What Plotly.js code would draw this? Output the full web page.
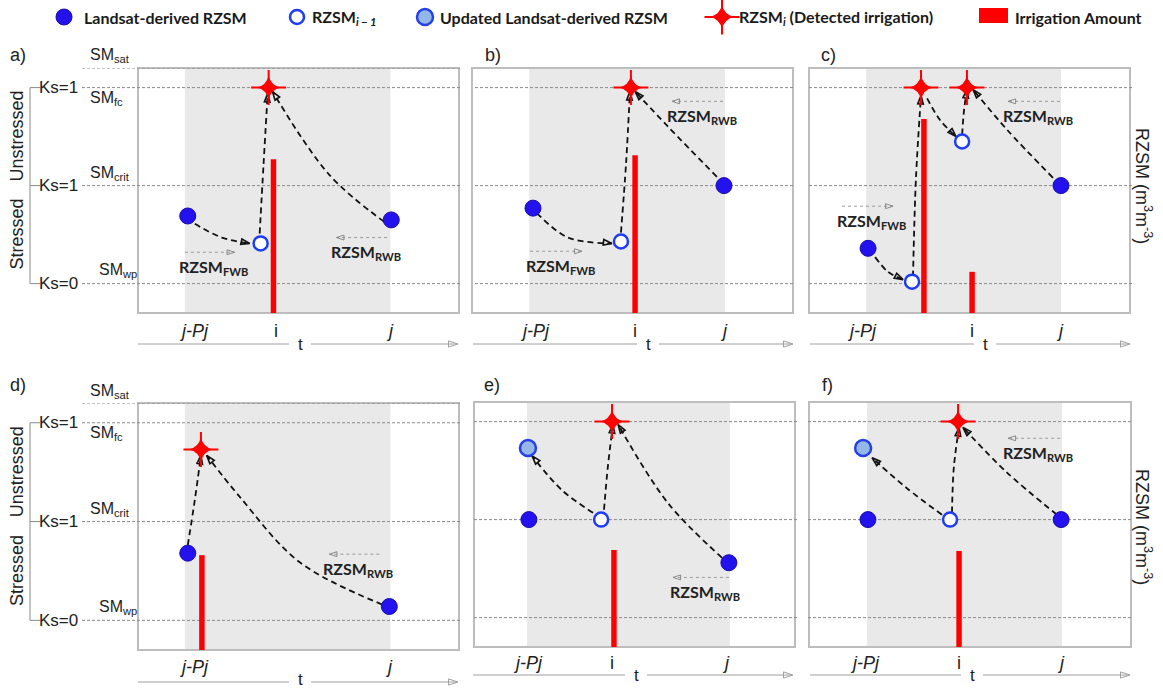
<!DOCTYPE html>
<html>
<head>
<meta charset="utf-8">
<script src="https://cdn.plot.ly/plotly-3.0.1.min.js"></script>
<style>html,body{margin:0;padding:0;background:#fff;}#chart{width:1163px;height:690px;}</style>
</head>
<body>
<div id="chart"></div>
<script>
// ---------------- data (schematic units: SMwp = 0, SMcrit = 1, SMfc = 2, SMsat = 2.2; time 0..10) ----------------
const thresholdLabels = ['SM<sub>wp</sub>', 'SM<sub>crit</sub>', 'SM<sub>fc</sub>', 'SM<sub>sat</sub>'];
const thresholdValues = [0, 1, 2, 2.2];
const ksLabels = ['Ks=0', 'Ks=1', 'Ks=1'];
const stressLabels = ['Stressed', 'Unstressed'];
const panelLabels = ['a)', 'b)', 'c)', 'd)', 'e)', 'f)'];
const tickText = ['<i>j-Pj</i>', 'i', '<i>j</i>'];
const tickX = [[1.74, 4.29, 7.86], [1.96, 5.08, 7.85], [1.65, 5.08, 7.82], [1.74, null, 7.83], [1.68, 4.30, 7.85], [1.74, 4.66, 7.83]];
const windowStart = [1.46, 1.78, 1.78, 1.46, 1.65, 1.80];
const windowEnd = [7.86, 7.88, 7.85, 7.86, 7.97, 7.86];

const landsatX = [[1.55, 7.89], [1.90, 7.85], [1.84, 7.85], [1.55, 7.83], [1.71, 7.94], [1.83, 7.83]];
const landsatY = [[0.69, 0.65], [0.77, 1.0], [0.36, 1.0], [0.68, 0.14], [1.0, 0.56], [1.0, 1.0]];
const priorX = [[3.82], [4.64], [3.21, 4.77], [], [3.96], [4.38]];
const priorY = [[0.41], [0.43], [0.02, 1.45], [], [1.0], [1.0]];
const updatedX = [[], [], [], [], [1.68], [1.68]];
const updatedY = [[], [], [], [], [1.73], [1.73]];
const detectedX = [[4.07], [4.95], [3.49, 4.92], [1.96], [4.30], [4.63]];
const detectedY = [[2.0], [2.0], [2.0, 2.0], [1.73], [2.0], [2.0]];
const irrigationX = [[4.22], [5.08], [3.58, 5.08], [1.99], [4.36], [4.66]];
const irrigationAmount = [[1.57], [1.61], [1.98, 0.42], [0.96], [0.99], [0.98]];

// dashed water-balance paths (start, middle, end)
const pathX = [
  [[1.77, 2.61, 3.48], [3.79, 3.91, 4.04], [7.67, 5.96, 4.19]],
  [[2.02, 2.99, 4.36], [4.64, 4.80, 4.92], [7.63, 6.11, 5.08]],
  [[2.06, 2.46, 2.93], [3.24, 3.33, 3.49], [3.68, 4.08, 4.58], [4.77, 4.83, 4.92], [7.60, 6.17, 5.11]],
  [[1.55, 1.77, 1.96], [7.61, 5.03, 3.17, 2.14]],
  [[3.71, 2.74, 1.81], [4.05, 4.17, 4.33], [7.73, 6.04, 4.49]],
  [[4.13, 3.04, 1.96], [4.44, 4.50, 4.66], [7.70, 6.15, 4.78]]
];
const pathY = [
  [[0.61, 0.47, 0.41], [0.51, 1.21, 1.94], [0.63, 1.11, 1.96]],
  [[0.72, 0.47, 0.41], [0.52, 1.23, 1.96], [1.09, 1.60, 1.96]],
  [[0.27, 0.12, 0.04], [0.07, 1.06, 1.92], [1.89, 1.67, 1.50], [1.52, 1.77, 1.98], [1.08, 1.57, 1.98]],
  [[0.76, 1.22, 1.67], [0.16, 0.59, 1.25, 1.67]],
  [[1.07, 1.30, 1.65], [1.10, 1.54, 1.97], [0.61, 1.17, 1.97]],
  [[1.05, 1.32, 1.63], [1.07, 1.54, 1.94], [1.05, 1.48, 1.94]]
];
// forward / reverse water balance direction arrows [tail, head]
const fwbX = [[1.46, 3.01], [1.81, 3.43], [1.03, 2.62], null, null, null];
const fwbY = [0.32, 0.33, 0.79, null, null, null];
const rwbX = [[7.76, 6.18], [7.82, 6.23], [7.82, 6.20], [7.52, 5.96], [7.94, 6.20], [7.80, 6.18]];
const rwbY = [0.47, 1.86, 1.86, 0.67, 0.41, 1.83];

const legendNames = ['Landsat-derived RZSM', 'RZSM<sub><i>i − 1</i></sub>', 'Updated Landsat-derived RZSM',
  'RZSM<sub><i>i</i></sub> (Detected irrigation)', 'Irrigation Amount'];
const yTitle = 'RZSM (m<sup>3</sup>m<sup>-3</sup>)';

// ---------------- geometry (pixels) ----------------
const W = 1163, H = 690;
const XR = [0, 10], YR = [-0.3, 2.2];
const boxes = [[138, 459, 68, 313], [472, 793, 68, 313], [809, 1130, 68, 313],
               [138, 459, 403, 650], [474, 795, 402, 647], [809, 1131, 402, 647]];
const lineExt = [[82, 460], [475, 795], [809, 1133], [82, 460], [474, 797], [808, 1131]];
const tickRowY = [331, 331, 331, 667, 663, 663];
const tAxisY = [344, 344, 344, 682, 675, 675];
const tAxisX = [[138, 458], [473, 793], [810, 1130], [138, 458], [473, 793], [810, 1130]];
const tLabelX = [300, 648, 985, 300, 636, 972];
const letterPos = [[18, 55], [493, 55], [828, 55], [18, 385], [492, 385], [827, 385]];
const fx = v => v / W, fy = v => 1 - v / H;
const sfx = k => (k === 0 ? '' : String(k + 1));
const FA = 'Liberation Sans, Arial, sans-serif';
const FB = 'Lato, Calibri, sans-serif';
const BLUE = '#2412ee', BLUE_EDGE = '#160bb0', RING = '#1f3cf5';

const layout = {
  width: W, height: H, margin: {l: 0, r: 0, t: 0, b: 0},
  paper_bgcolor: '#ffffff', plot_bgcolor: 'rgba(0,0,0,0)', showlegend: false,
  shapes: [], annotations: []
};
const traces = [];
const S = layout.shapes, A = layout.annotations;

for (let k = 0; k < 6; k++) {
  const [l, r, t, b] = boxes[k];
  layout['xaxis' + sfx(k)] = {domain: [fx(l), fx(r)], range: XR, visible: false, fixedrange: true, anchor: 'y' + sfx(k)};
  layout['yaxis' + sfx(k)] = {domain: [fy(b), fy(t)], range: YR, visible: false, fixedrange: true, anchor: 'x' + sfx(k)};
}
// full-page overlay axis (pixel units) for legend glyphs and time-axis arrowheads
layout.xaxis7 = {domain: [0, 1], range: [0, W], visible: false, fixedrange: true, anchor: 'y7'};
layout.yaxis7 = {domain: [0, 1], range: [H, 0], visible: false, fixedrange: true, anchor: 'x7'};

// background bands, boxes, threshold lines
for (let k = 0; k < 6; k++) {
  const [l, r, t, b] = boxes[k];
  S.push({type: 'rect', xref: 'x' + sfx(k), yref: 'paper', x0: windowStart[k], x1: windowEnd[k], y0: fy(b), y1: fy(t),
    fillcolor: '#e9e9e9', line: {width: 0}, layer: 'below'});
}
for (let k = 0; k < 6; k++) {
  const [l, r, t, b] = boxes[k];
  S.push({type: 'rect', xref: 'paper', yref: 'paper', x0: fx(l), x1: fx(r), y0: fy(b), y1: fy(t),
    fillcolor: 'rgba(0,0,0,0)', line: {color: '#bdbdbd', width: 2}, layer: 'below'});
}
for (let k = 0; k < 6; k++) {
  const n = (k === 0 || k === 3) ? 4 : 3;
  for (let i = 0; i < n; i++) {
    S.push({type: 'line', xref: 'paper', yref: 'y' + sfx(k), x0: fx(lineExt[k][0]), x1: fx(lineExt[k][1]),
      y0: thresholdValues[i], y1: thresholdValues[i], line: {color: '#8a8a8a', width: 1, dash: '3px,2px'}, layer: 'below'});
  }
}

// left-side labels for rows (panels a and d)
[0, 3].forEach(k => {
  const yref = 'y' + sfx(k);
  S.push({type: 'line', xref: 'paper', yref, x0: fx(30), x1: fx(30), y0: thresholdValues[0], y1: thresholdValues[2],
    line: {color: '#8a8a8a', width: 1}});
  for (let i = 0; i < 3; i++) {
    S.push({type: 'line', xref: 'paper', yref, x0: fx(30), x1: fx(40), y0: thresholdValues[i], y1: thresholdValues[i],
      line: {color: '#8a8a8a', width: 1}});
    A.push({xref: 'paper', yref, x: fx(58), y: thresholdValues[i], text: ksLabels[i], showarrow: false,
      font: {family: FA, size: 17, color: '#222'}});
  }
  const smX = [97, 88, 88, 88], smShift = [13, 12, -11, 12];
  for (let i = 0; i < 4; i++) {
    A.push({xref: 'paper', yref, x: fx(smX[i]), y: thresholdValues[i], yshift: smShift[i], text: thresholdLabels[i],
      showarrow: false, xanchor: 'left', font: {family: FA, size: 16, color: '#222'}});
  }
  A.push({xref: 'paper', yref, x: fx(17), y: (thresholdValues[0] + thresholdValues[1]) / 2, text: stressLabels[0],
    textangle: -90, showarrow: false, font: {family: FA, size: 18, color: '#222'}});
  A.push({xref: 'paper', yref, x: fx(17), y: (thresholdValues[1] + thresholdValues[2]) / 2, text: stressLabels[1],
    textangle: -90, showarrow: false, font: {family: FA, size: 18, color: '#222'}});
});

// irrigation bars
for (let k = 0; k < 6; k++) {
  traces.push({type: 'bar', x: irrigationX[k], y: irrigationAmount[k], base: YR[0], width: 0.17,
    xaxis: 'x' + sfx(k), yaxis: 'y' + sfx(k), marker: {color: '#ff0000', line: {width: 0}}, hoverinfo: 'skip'});
}
// helper: arrowhead only on the last point of a line trace
function headMarker(n, size, color, width) {
  return {symbol: 'arrow-open', angleref: 'previous', size: Array.from({length: n}, (_, i) => i === n - 1 ? size : 0),
    opacity: Array.from({length: n}, (_, i) => i === n - 1 ? 1 : 0), color, line: {color, width}};
}
// dotted direction arrows + labels
for (let k = 0; k < 6; k++) {
  const xr = 'x' + sfx(k), yr = 'y' + sfx(k);
  const items = [];
  if (fwbX[k]) items.push([fwbX[k], fwbY[k], 'FWB']);
  if (rwbX[k]) items.push([rwbX[k], rwbY[k], 'RWB']);
  items.forEach(([xs, y, lab]) => {
    traces.push({type: 'scatter', mode: 'lines+markers', x: xs, y: [y, y], xaxis: xr, yaxis: yr,
      line: {color: '#9a9a9a', width: 1, dash: 'dot'}, marker: headMarker(2, 8, '#8a8a8a', 1), hoverinfo: 'skip'});
    A.push({xref: xr, yref: yr, x: (xs[0] + xs[1]) / 2, y, xshift: 4, yshift: -15, showarrow: false,
      text: '<b>RZSM<sub>' + lab + '</sub></b>', font: {family: FB, size: 16, color: '#222'}});
  });
}
// dashed balance paths
for (let k = 0; k < 6; k++) {
  const xr = 'x' + sfx(k), yr = 'y' + sfx(k);
  pathX[k].forEach((xs, j) => {
    traces.push({type: 'scatter', mode: 'lines+markers', x: xs, y: pathY[k][j], xaxis: xr, yaxis: yr,
      line: {color: '#111', width: 1.8, dash: '6px,4px', shape: 'spline', smoothing: 1},
      marker: headMarker(xs.length, 9, '#111', 1.6), cliponaxis: false, hoverinfo: 'skip'});
  });
}
// markers
const mk = {
  landsat: {symbol: 'circle', size: 16, color: BLUE, line: {color: BLUE_EDGE, width: 1}},
  prior: {symbol: 'circle', size: 14, color: '#ffffff', line: {color: RING, width: 2.5}},
  updated: {symbol: 'circle', size: 16, color: '#93b8e8', line: {color: '#2640e6', width: 2.5}},
  star: {symbol: 'star-diamond', size: 17, color: '#ff0000', line: {width: 0}},
  starArms: {symbol: 'cross-thin', size: 25, color: '#ff0000', line: {color: '#ff0000', width: 2}}
};
for (let k = 0; k < 6; k++) {
  const xr = 'x' + sfx(k), yr = 'y' + sfx(k);
  [[landsatX[k], landsatY[k], mk.landsat], [priorX[k], priorY[k], mk.prior],
   [updatedX[k], updatedY[k], mk.updated], [detectedX[k], detectedY[k], mk.starArms],
   [detectedX[k], detectedY[k], mk.star]].forEach(([xs, ys, m]) => {
    if (xs.length) traces.push({type: 'scatter', mode: 'markers', x: xs, y: ys, xaxis: xr, yaxis: yr,
      marker: m, cliponaxis: false, hoverinfo: 'skip'});
  });
}
// time axes (with a gap around the "t"), tick labels, panel letters
for (let k = 0; k < 6; k++) {
  const xr = 'x' + sfx(k);
  const [a0, a1] = tAxisX[k];
  const gap = 11;
  [[a0, tLabelX[k] - gap], [tLabelX[k] + gap, a1 - 1]].forEach(([s0, s1]) => {
    S.push({type: 'line', xref: 'paper', yref: 'paper', x0: fx(s0), x1: fx(s1), y0: fy(tAxisY[k]), y1: fy(tAxisY[k]),
      line: {color: '#a0a0a0', width: 1}});
  });
  traces.push({type: 'scatter', mode: 'markers', x: [a1], y: [tAxisY[k]], xaxis: 'x7', yaxis: 'y7',
    marker: {symbol: 'arrow-open', angle: 90, size: 10, color: '#a0a0a0', line: {color: '#a0a0a0', width: 1}},
    cliponaxis: false, hoverinfo: 'skip'});
  A.push({xref: 'paper', yref: 'paper', x: fx(tLabelX[k]), y: fy(Math.min(tAxisY[k], 679)), text: 't', showarrow: false,
    borderpad: 0, font: {family: FA, size: 17, color: '#222'}});
  tickX[k].forEach((x, i) => {
    if (x === null) return;
    A.push({xref: xr, yref: 'paper', x, y: fy(tickRowY[k]), text: tickText[i], showarrow: false,
      font: {family: FA, size: 18, color: '#222'}});
  });
  A.push({xref: 'paper', yref: 'paper', x: fx(letterPos[k][0]), y: fy(letterPos[k][1]), text: panelLabels[k],
    showarrow: false, font: {family: FA, size: 18, color: '#222'}});
}
// right-hand axis titles
[186, 527].forEach(yc => {
  A.push({xref: 'paper', yref: 'paper', x: fx(1144), y: fy(yc), text: yTitle, textangle: 90, showarrow: false,
    font: {family: FA, size: 18, color: '#222'}});
});

// legend
const legendMarkerX = [64, 297, 425, 722];
const legendTextX = [82, 310, 438, 737, 1013];
[[mk.landsat], [mk.prior], [mk.updated], [mk.starArms, mk.star]].forEach((ms, i) => {
  ms.forEach(m => traces.push({type: 'scatter', mode: 'markers', x: [legendMarkerX[i]], y: [17], xaxis: 'x7', yaxis: 'y7',
    marker: m, cliponaxis: false, hoverinfo: 'skip'}));
});
S.push({type: 'rect', xref: 'paper', yref: 'paper', x0: fx(979), x1: fx(1008), y0: fy(23), y1: fy(8),
  fillcolor: '#ff0000', line: {width: 0}});
legendNames.forEach((t, i) => {
  A.push({xref: 'paper', yref: 'paper', x: fx(legendTextX[i]), y: fy(17), xanchor: 'left',
    text: '<b>' + t + '</b>', showarrow: false, font: {family: FB, size: 16, color: '#1a1a1a'}});
});

A.forEach(a => { if (!a.xanchor) a.xanchor = 'center'; if (!a.yanchor) a.yanchor = 'middle'; });
traces.forEach(t => { t.showlegend = false; });
Plotly.newPlot('chart', traces, layout, {staticPlot: true, displayModeBar: false});
</script>
</body>
</html>
